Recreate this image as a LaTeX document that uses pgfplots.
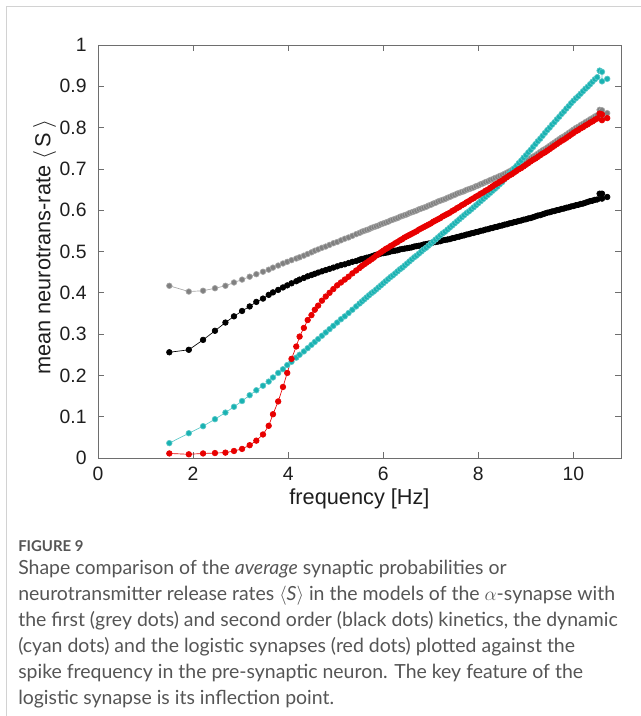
\documentclass[border=0pt]{standalone}
\usepackage{pgfplots}
\pgfplotsset{compat=1.18}
\usepackage{pgfplotstable}
\usepackage{fontspec}
\setmainfont{Liberation Sans}
\newfontfamily\capfont{Lato}
\definecolor{gmark}{RGB}{128,128,128}
\definecolor{gline}{RGB}{165,165,165}
\definecolor{cmark}{RGB}{25,178,178}
\definecolor{cline}{RGB}{90,200,200}
\definecolor{rmark}{RGB}{232,0,0}
\definecolor{axc}{RGB}{110,110,110}
\definecolor{framec}{RGB}{210,210,210}
\definecolor{capgray}{RGB}{85,85,85}
\definecolor{tickc}{RGB}{30,30,30}
\newcommand{\tickfont}{\fontsize{14.5}{17}\selectfont}
\newcommand{\labfont}{\fontsize{16.3}{19}\selectfont}
\newcommand{\capsize}{\fontsize{14.6}{17}\selectfont}

\pgfplotstableread{
x g b c r
1.50 0.417 0.256 0.036 0.011
1.91 0.403 0.262 0.060 0.009
2.21 0.405 0.286 0.077 0.011
2.46 0.411 0.308 0.094 0.012
2.68 0.417 0.328 0.110 0.013
2.86 0.425 0.343 0.124 0.017
3.03 0.432 0.356 0.138 0.022
3.19 0.439 0.367 0.152 0.031
3.33 0.445 0.378 0.164 0.042
3.47 0.451 0.386 0.175 0.057
3.59 0.456 0.395 0.185 0.078
3.68 0.461 0.401 0.195 0.106
3.79 0.466 0.407 0.206 0.137
3.89 0.471 0.413 0.215 0.172
3.98 0.475 0.418 0.225 0.206
4.07 0.479 0.423 0.233 0.240
4.17 0.483 0.428 0.243 0.270
4.24 0.486 0.432 0.250 0.294
4.33 0.490 0.436 0.258 0.315
4.41 0.494 0.440 0.266 0.334
4.49 0.498 0.443 0.274 0.346
4.56 0.502 0.446 0.281 0.359
4.63 0.505 0.449 0.288 0.369
4.71 0.509 0.452 0.296 0.381
4.79 0.512 0.455 0.304 0.391
4.87 0.516 0.458 0.312 0.400
4.95 0.520 0.461 0.320 0.409
5.03 0.523 0.464 0.328 0.418
5.11 0.527 0.467 0.336 0.425
5.19 0.531 0.469 0.343 0.432
5.27 0.534 0.472 0.351 0.439
5.35 0.538 0.475 0.359 0.447
5.43 0.542 0.477 0.367 0.454
5.50 0.545 0.480 0.374 0.460
5.55 0.548 0.482 0.379 0.465
5.6 0.550 0.483 0.384 0.469
5.65 0.552 0.485 0.389 0.473
5.7 0.554 0.486 0.394 0.477
5.75 0.557 0.488 0.399 0.481
5.8 0.559 0.490 0.403 0.485
5.85 0.561 0.492 0.408 0.490
5.9 0.563 0.493 0.413 0.494
5.95 0.566 0.495 0.418 0.498
6.0 0.568 0.496 0.423 0.502
6.05 0.570 0.497 0.428 0.506
6.1 0.572 0.498 0.433 0.509
6.15 0.575 0.500 0.438 0.513
6.2 0.577 0.501 0.442 0.516
6.25 0.579 0.502 0.447 0.520
6.3 0.581 0.503 0.452 0.523
6.35 0.584 0.505 0.457 0.527
6.4 0.586 0.506 0.461 0.530
6.45 0.588 0.507 0.466 0.534
6.5 0.590 0.508 0.471 0.537
6.55 0.593 0.509 0.476 0.540
6.6 0.595 0.510 0.481 0.543
6.65 0.597 0.512 0.486 0.546
6.7 0.599 0.513 0.490 0.549
6.75 0.602 0.514 0.495 0.553
6.8 0.604 0.515 0.500 0.556
6.85 0.606 0.517 0.505 0.559
6.9 0.608 0.518 0.509 0.562
6.95 0.611 0.519 0.514 0.565
7.0 0.613 0.520 0.519 0.568
7.05 0.616 0.522 0.524 0.572
7.1 0.618 0.523 0.529 0.575
7.15 0.621 0.524 0.534 0.578
7.2 0.623 0.525 0.539 0.581
7.25 0.625 0.527 0.544 0.585
7.3 0.627 0.528 0.548 0.588
7.35 0.630 0.529 0.553 0.591
7.4 0.632 0.530 0.558 0.594
7.45 0.635 0.532 0.563 0.598
7.5 0.637 0.533 0.568 0.601
7.55 0.640 0.535 0.573 0.605
7.6 0.642 0.536 0.578 0.608
7.65 0.644 0.538 0.583 0.612
7.7 0.646 0.539 0.588 0.615
7.75 0.649 0.541 0.593 0.619
7.8 0.651 0.542 0.597 0.622
7.85 0.653 0.544 0.602 0.626
7.9 0.655 0.545 0.607 0.629
7.95 0.658 0.547 0.612 0.633
8.0 0.660 0.548 0.617 0.636
8.05 0.663 0.550 0.622 0.640
8.1 0.665 0.551 0.627 0.643
8.15 0.668 0.553 0.632 0.647
8.2 0.670 0.554 0.637 0.650
8.25 0.673 0.556 0.642 0.654
8.3 0.675 0.557 0.647 0.658
8.35 0.678 0.559 0.652 0.662
8.4 0.680 0.560 0.657 0.665
8.45 0.683 0.562 0.663 0.669
8.5 0.685 0.563 0.668 0.672
8.55 0.688 0.565 0.675 0.676
8.6 0.691 0.566 0.681 0.680
8.65 0.694 0.568 0.688 0.684
8.7 0.697 0.569 0.694 0.687
8.75 0.701 0.571 0.701 0.691
8.8 0.704 0.572 0.707 0.695
8.85 0.708 0.574 0.714 0.699
8.9 0.711 0.575 0.720 0.702
8.95 0.715 0.577 0.727 0.706
9.0 0.718 0.578 0.733 0.710
9.05 0.722 0.580 0.740 0.714
9.1 0.726 0.581 0.746 0.718
9.15 0.730 0.583 0.753 0.722
9.2 0.733 0.585 0.760 0.725
9.25 0.737 0.587 0.767 0.729
9.3 0.741 0.588 0.773 0.733
9.35 0.745 0.590 0.780 0.737
9.4 0.748 0.592 0.787 0.740
9.45 0.752 0.594 0.794 0.744
9.5 0.756 0.595 0.800 0.748
9.55 0.760 0.597 0.807 0.752
9.6 0.764 0.598 0.813 0.756
9.65 0.768 0.600 0.820 0.760
9.7 0.772 0.601 0.826 0.764
9.75 0.776 0.603 0.833 0.768
9.8 0.779 0.604 0.839 0.771
9.85 0.783 0.606 0.846 0.775
9.9 0.787 0.607 0.852 0.779
9.95 0.791 0.609 0.859 0.783
10.0 0.795 0.610 0.865 0.787
10.05 0.799 0.612 0.871 0.791
10.1 0.802 0.613 0.876 0.794
10.15 0.806 0.615 0.882 0.798
10.2 0.809 0.616 0.888 0.801
10.25 0.813 0.618 0.894 0.805
10.3 0.816 0.620 0.899 0.808
10.35 0.820 0.622 0.905 0.812
10.4 0.823 0.623 0.911 0.815
10.45 0.827 0.625 0.917 0.819
10.5 0.830 0.626 0.922 0.822
10.55 0.843 0.640 0.938 0.834
10.60 0.842 0.640 0.935 0.832
10.60 0.828 0.628 0.912 0.818
10.71 0.835 0.632 0.918 0.823
}\data

\begin{document}
\begin{tikzpicture}
\useasboundingbox (0,0) rectangle (480.75pt,-537pt);
\draw[framec, line width=0.75pt] (4.5pt,-537pt) -- (4.5pt,-5.25pt) -- (480.75pt,-5.25pt);
\begin{axis}[
  at={(73.5pt,-343.5pt)}, anchor=south west,
  scale only axis, width=392.25pt, height=309.75pt,
  xmin=0, xmax=11, ymin=0, ymax=1,
  xtick={0,2,4,6,8,10},
  ytick={0,0.1,0.2,0.3,0.4,0.5,0.6,0.7,0.8,0.9,1},
  tick align=inside, major tick length=4.5pt,
  axis line style={axc, line width=0.6pt},
  every tick/.style={axc, line width=0.6pt},
  xticklabel={\tickfont\pgfmathprintnumber[assume math mode=true]{\tick}},
  yticklabel={\tickfont\pgfmathprintnumber[assume math mode=true]{\tick}},
  tick label style={text=tickc},
  yticklabel style={xshift=-5pt},
  xticklabel style={yshift=-3pt},
  xlabel={\labfont frequency [Hz]},
  ylabel={\labfont mean neurotrans-rate $\big\langle$\,S\,$\big\rangle$},
  every axis x label/.style={at={(axis description cs:0.5,-0.1)}, anchor=center, text=tickc},
  every axis y label/.style={at={(axis description cs:-0.102,0.51)}, rotate=90, anchor=center, text=tickc},
  clip=false,
]
\addplot[color=gline, line width=0.5pt, mark=*, mark size=2.1pt, mark options={draw=none, fill=gmark}] table[x=x,y=g]{\data};
\addplot[color=black, line width=0.5pt, mark=*, mark size=2.1pt, mark options={draw=none, fill=black}] table[x=x,y=b]{\data};
\addplot[color=cline, line width=0.5pt, mark=*, mark size=2.1pt, mark options={draw=none, fill=cmark}] table[x=x,y=c]{\data};
\addplot[color=rmark, line width=0.5pt, mark=*, mark size=2.1pt, mark options={draw=none, fill=rmark}] table[x=x,y=r]{\data};
\end{axis}
\begin{scope}[every node/.style={anchor=base west, inner sep=0pt, text=capgray}]
\node[font=\capfont\fontsize{11.2}{13}\selectfont\bfseries] at (13.5pt,-413.25pt) {FIGURE 9};
\node[font=\capfont\capsize] at (13.5pt,-430.5pt) {Shape comparison of the \textit{average} synaptic probabilities or};
\node[font=\capfont\capsize] at (13.5pt,-450pt) {neurotransmitter release rates $\langle$\textit{S}$\rangle$ in the models of the $\alpha$-synapse with};
\node[font=\capfont\capsize] at (13.5pt,-469.5pt) {the first (grey dots) and second order (black dots) kinetics, the dynamic};
\node[font=\capfont\capsize] at (13.5pt,-489pt) {(cyan dots) and the logistic synapses (red dots) plotted against the};
\node[font=\capfont\capsize] at (13.5pt,-508.5pt) {spike frequency in the pre-synaptic neuron. The key feature of the};
\node[font=\capfont\capsize] at (13.5pt,-528pt) {logistic synapse is its inflection point.};
\end{scope}
\end{tikzpicture}
\end{document}
